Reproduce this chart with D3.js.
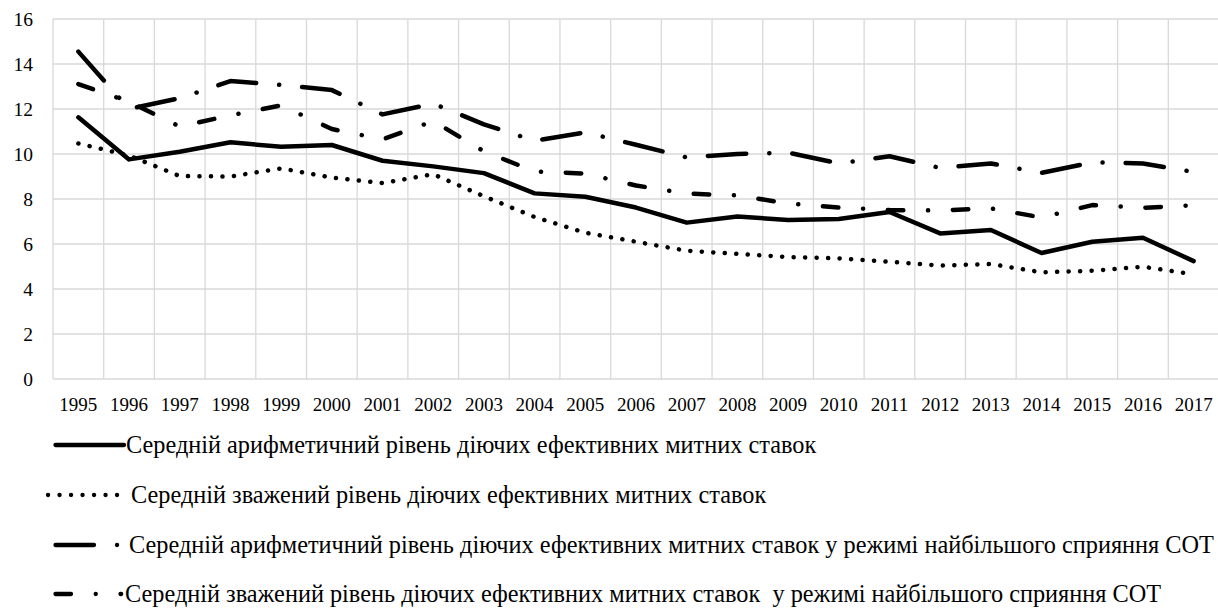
<!DOCTYPE html>
<html><head><meta charset="utf-8">
<script src="https://cdn.jsdelivr.net/npm/d3@7"></script>
<style>
html,body{margin:0;padding:0;background:#fff;}
svg{display:block;}
</style></head>
<body><svg id="chart" width="1218" height="609"></svg>
<script>
const years = ["1995","1996","1997","1998","1999","2000","2001","2002","2003","2004","2005","2006","2007","2008","2009","2010","2011","2012","2013","2014","2015","2016","2017"];
const arith = [11.63, 9.76, 10.1, 10.52, 10.32, 10.4, 9.7, 9.45, 9.15, 8.25, 8.1, 7.62, 6.95, 7.22, 7.07, 7.11, 7.42, 6.47, 6.62, 5.6, 6.1, 6.28, 5.24];
const weighted = [10.47, 9.93, 9.02, 9.0, 9.36, 8.95, 8.71, 9.1, 8.12, 7.2, 6.5, 6.1, 5.7, 5.56, 5.42, 5.36, 5.21, 5.04, 5.11, 4.74, 4.81, 4.99, 4.65];
const arithMFN = [14.55, 12.0, 12.48, 13.24, 13.07, 12.84, 11.76, 12.24, 11.32, 10.59, 10.96, 10.41, 9.85, 10.0, 10.06, 9.58, 9.9, 9.38, 9.58, 9.16, 9.63, 9.58, 9.2];
const weightedMFN = [13.11, 12.32, 11.22, 11.72, 12.16, 11.11, 10.65, 11.46, 10.12, 9.22, 9.13, 8.6, 8.24, 8.16, 7.8, 7.62, 7.51, 7.49, 7.58, 7.18, 7.73, 7.61, 7.72];
const yTicks = [0, 2, 4, 6, 8, 10, 12, 14, 16];
const seriesNames = [
  "Середній арифметичний рівень діючих ефективних митних ставок",
  "Середній зважений рівень діючих ефективних митних ставок",
  "Середній арифметичний рівень діючих ефективних митних ставок у режимі найбільшого сприяння СОТ",
  "Середній зважений рівень діючих ефективних митних ставок  у режимі найбільшого сприяння СОТ"
];

(function () {
const FONT = "Liberation Serif";
const svg = d3.select("#chart");
const pL = 53, pR = 1219, pT = 19, pB = 379;
const x = d3.scaleBand().domain(years).range([pL, pR]).padding(0);
const y = d3.scaleLinear().domain([0, 16]).range([pB, pT]);
const grid = "#d9d9d9";

svg.append("g").selectAll("line").data(yTicks).join("line")
  .attr("x1", pL).attr("x2", 1218)
  .attr("y1", d => y(d)).attr("y2", d => y(d))
  .attr("stroke", grid).attr("stroke-width", 1.3);
svg.append("g").selectAll("line").data(years).join("line")
  .attr("x1", d => x(d)).attr("x2", d => x(d))
  .attr("y1", pT).attr("y2", pB)
  .attr("stroke", grid).attr("stroke-width", 1.3);

const yAxis = d3.axisLeft(y).tickValues(yTicks).tickSize(0).tickPadding(0).tickFormat(d3.format("d"));
const ya = svg.append("g").attr("transform", "translate(33,0)").call(yAxis);
ya.select(".domain").remove();
ya.attr("font-family", FONT).attr("font-size", 19.5);
ya.selectAll("text").style("font-family", FONT).style("font-size", "19.5px").attr("fill", "#000").attr("dy", "0.34em");

const xAxis = d3.axisBottom(x).tickSize(0).tickPadding(0);
const xa = svg.append("g").attr("transform", `translate(0,${pB + 18})`).call(xAxis);
xa.select(".domain").remove();
xa.attr("font-family", FONT).attr("font-size", 19);
xa.selectAll("text").style("font-family", FONT).style("font-size", "19px").attr("fill", "#000");

const styles = [
  {data: arith, dash: null, w: 4.5},
  {data: weighted, dash: "0.1,11.4", w: 4.5},
  {data: arithMFN, dash: "38.5,23,0.1,23", w: 4.5},
  {data: weightedMFN, dash: "15.5,24.7,0.1,24.7", w: 4.5}
];
const line = d3.line().x((d, i) => x(years[i]) + x.bandwidth() / 2).y(d => y(d));
styles.forEach(s => {
  svg.append("path").datum(s.data)
    .attr("d", line)
    .attr("fill", "none").attr("stroke", "#000")
    .attr("stroke-width", s.w)
    .attr("stroke-linecap", "round").attr("stroke-linejoin", "round")
    .attr("stroke-dasharray", s.dash);
});

const legY = [445, 495, 545, 594];
const legStart = [55.5, 48, 55.5, 55.5];
const legEnd = [124, 118, 120, 121.2];
const legText = [126, 131, 129, 125];
styles.forEach((s, i) => {
  svg.append("line")
    .attr("x1", legStart[i]).attr("x2", legEnd[i])
    .attr("y1", legY[i]).attr("y2", legY[i])
    .attr("stroke", "#000").attr("stroke-width", 4.3)
    .attr("stroke-linecap", "round")
    .attr("stroke-dasharray", s.dash);
  svg.append("text")
    .attr("x", legText[i]).attr("y", legY[i] + 8)
    .style("font-family", FONT).style("font-size", "24.3px")
    .style("white-space", "pre").attr("fill", "#000")
    .text(seriesNames[i]);
});
})();
</script></body></html>
